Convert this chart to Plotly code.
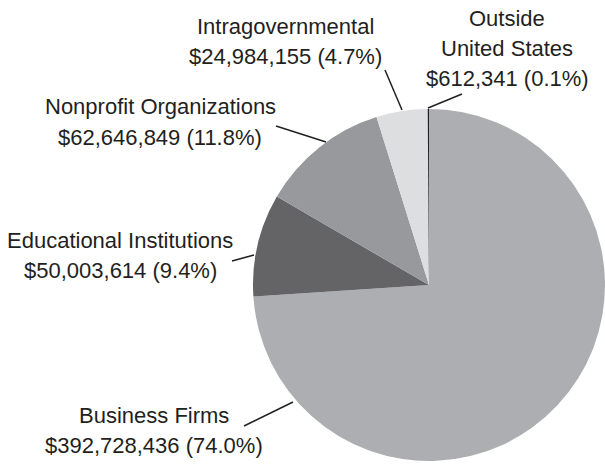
import plotly.graph_objects as go

categories = ["Business Firms", "Educational Institutions", "Nonprofit Organizations",
              "Intragovernmental", "Outside United States"]
values = [392728436, 50003614, 62646849, 24984155, 612341]
percents = ["74.0%", "9.4%", "11.8%", "4.7%", "0.1%"]
label_lines = [["Business Firms"], ["Educational Institutions"], ["Nonprofit Organizations"],
               ["Intragovernmental"], ["Outside", "United States"]]
colors = ["#adaeb1", "#646467", "#98999c", "#dddee0", "#231f20"]

W, H = 605, 466
# pie geometry in pixels
CX, CY, R = 429, 285, 176

# label layout (pixel centres of first line) and leader lines (pixels)
label_pos = [(154, 415), (120, 240), (160, 107), (285, 26), (507, 18)]
leaders = [((244, 426), (293, 402)), ((232, 261), (254, 255)), ((276, 126), (326, 142)),
           ((385, 70), (402, 110)), ((462, 94), (428, 108))]
LINE_H = 30.5

def px(x, y):
    return x / W, 1 - y / H

fig = go.Figure(go.Pie(
    labels=categories, values=values, sort=False, direction="clockwise", rotation=0,
    marker=dict(colors=colors, line=dict(width=0)),
    textinfo="none", hoverinfo="label+value+percent", showlegend=False,
    domain=dict(x=[(CX - R) / W, min(1, (CX + R) / W)], y=[(H - CY - R) / H, (H - CY + R) / H]),
))

annotations = []
for cat, val, pct, lines, (lx, ly) in zip(categories, values, percents, label_lines, label_pos):
    all_lines = lines + [f"${val:,} ({pct})"]
    for i, t in enumerate(all_lines):
        x, y = px(lx, ly + i * LINE_H)
        annotations.append(dict(x=x, y=y, xref="paper", yref="paper", text=t, showarrow=False,
                                xanchor="center", yanchor="middle",
                                font=dict(family="Liberation Sans, Arial, sans-serif", size=22,
                                          color="#231f20")))
shapes = []
for (a, b) in leaders:
    x0, y0 = px(*a)
    x1, y1 = px(*b)
    shapes.append(dict(type="line", xref="paper", yref="paper", x0=x0, y0=y0, x1=x1, y1=y1,
                       line=dict(color="#231f20", width=1.5)))

fig.update_layout(width=W, height=H, margin=dict(l=0, r=0, t=0, b=0),
                  paper_bgcolor="white", plot_bgcolor="white",
                  annotations=annotations, shapes=shapes)
fig.write_html("out.html")
